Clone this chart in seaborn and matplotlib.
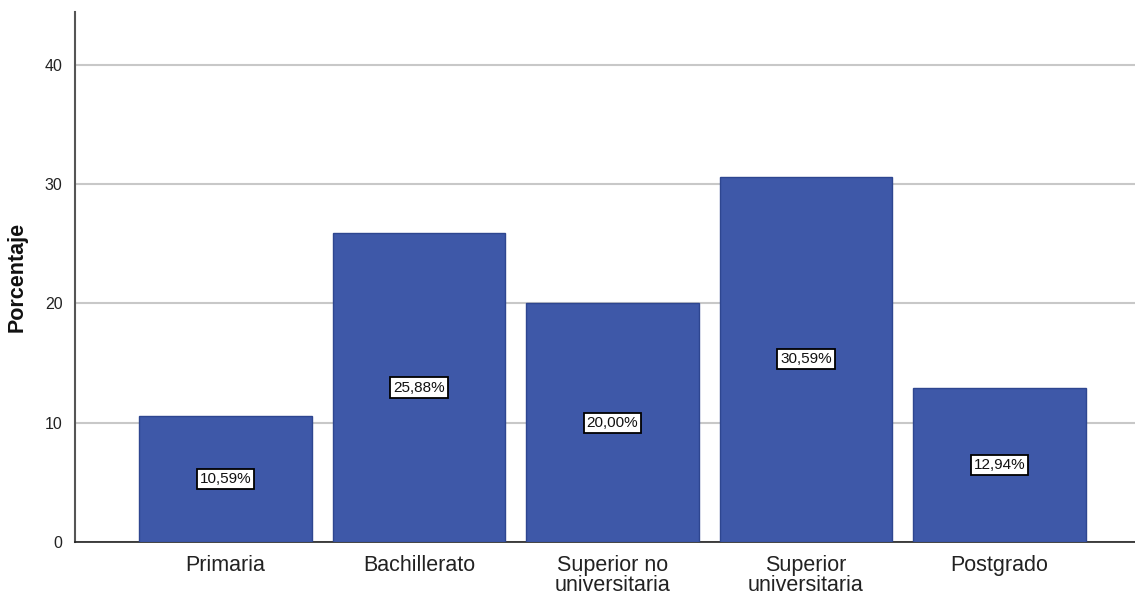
import matplotlib
matplotlib.use("Agg")
import matplotlib.pyplot as plt
import seaborn as sns
import pandas as pd

categorias = ["Primaria", "Bachillerato", "Superior no\nuniversitaria",
              "Superior\nuniversitaria", "Postgrado"]
porcentajes = [10.59, 25.88, 20.00, 30.59, 12.94]
etiquetas = ["10,59%", "25,88%", "20,00%", "30,59%", "12,94%"]
ticks_y = [0, 10, 20, 30, 40]

sns.set_style("white")
plt.rcParams["font.family"] = ["Liberation Sans", "DejaVu Sans"]

df = pd.DataFrame({"categoria": categorias, "porcentaje": porcentajes})

fig = plt.figure(figsize=(11.35, 5.96), dpi=100)
ax = fig.add_axes([0.0661, 0.0906, 0.9339, 0.8893])

sns.barplot(data=df, x="categoria", y="porcentaje", color="#3E58A8",
            width=0.893, edgecolor="#2E4690", linewidth=1.0, saturation=1,
            ax=ax, zorder=3)

for i, (v, t) in enumerate(zip(porcentajes, etiquetas)):
    ax.text(i, v / 2, t, ha="center", va="center", fontsize=11, zorder=5,
            color="#111111",
            bbox=dict(boxstyle="square,pad=0.2", facecolor="white",
                      edgecolor="black", linewidth=1.3))

ax.set_xlim(-0.777, 4.70)
ax.set_ylim(0, 44.4)
ax.set_yticks(ticks_y)
ax.set_yticklabels([str(t) for t in ticks_y], fontsize=11.5)
ax.tick_params(axis="x", labelsize=15.5, length=0, pad=9, colors="#222222")
ax.tick_params(axis="y", length=0, pad=9, colors="#222222")
for lbl in ax.get_xticklabels():
    lbl.set_linespacing(0.95)
ax.set_xlabel("")
ax.set_ylabel("Porcentaje", fontsize=15.5, fontweight="bold", labelpad=12,
              color="#111111")

ax.yaxis.grid(True, color="#c8c8c8", linewidth=1.5, zorder=0)
ax.set_axisbelow(True)
for s in ["top", "right"]:
    ax.spines[s].set_visible(False)
ax.spines["left"].set_color("#555555")
ax.spines["left"].set_linewidth(1.5)
ax.spines["bottom"].set_color("#222222")
ax.spines["bottom"].set_linewidth(1.2)

fig.savefig("out.png", dpi=100)
